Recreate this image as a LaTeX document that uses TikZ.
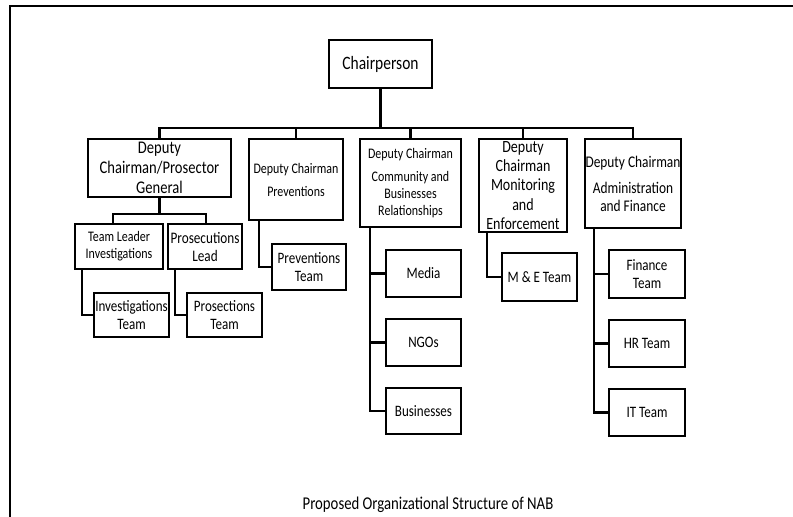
\documentclass[tikz,border=0pt]{standalone}
\usepackage{fontspec}
\setmainfont{Carlito}[FakeStretch=0.82]
\begin{document}
\begin{tikzpicture}[x=1pt,y=-1pt,
  bx/.style 2 args={draw, line width=2.5pt, minimum width=#1pt, minimum height=#2pt, inner sep=0pt, align=center},
  conn/.style={line width=2.5pt, line cap=rect},
  teamfont/.style={font=\fontsize{15.9}{18}\selectfont}]
\useasboundingbox (0,0) rectangle (793,517);
% frame
\draw[line width=2pt] (10,517) -- (10,6) -- (793,6);
% top
\node[bx={103}{48}, font=\fontsize{18.9}{20}\selectfont] (chair) at (380.5,64) {Chairperson};
% deputies
\node[bx={143}{58}, font=\fontsize{17.8}{20}\selectfont] (d1) at (159.5,168) {Deputy\\Chairman/Prosector\\General};
\node[bx={94}{81}, font=\fontsize{14.6}{23}\selectfont] (d2) at (296,179.5) {Deputy Chairman\\Preventions};
\node[bx={101}{88}, font=\fontsize{14.6}{17}\selectfont] (d3) at (410.5,183) {Deputy Chairman\\[6pt]Community and\\Businesses\\Relationships};
\node[bx={88}{93}, font=\fontsize{17.1}{19.3}\selectfont] (d4) at (523,185.5) {Deputy\\Chairman\\Monitoring\\and\\Enforcement};
\node[bx={96}{89}, font=\fontsize{16.3}{18}\selectfont] (d5) at (633,183.5) {Deputy Chairman\\[8pt]Administration\\and Finance};
% second level under d1
\node[bx={88}{45}, font=\fontsize{14.6}{17}\selectfont] (tli) at (119,246.5) {Team Leader\\Investigations};
\node[bx={74}{45}, font=\fontsize{16.1}{18}\selectfont] (pl) at (205,246.5) {Prosecutions\\Lead};
\node[bx={75}{44}, teamfont] (it) at (131.5,315) {Investigations\\Team};
\node[bx={75}{44}, teamfont] (pt) at (224.5,315) {Prosections\\Team};
% preventions
\node[bx={74}{46}, teamfont] (pvt) at (309,267) {Preventions\\Team};
% community
\node[bx={75}{47}, teamfont] (media) at (423.5,273.5) {Media};
\node[bx={75}{47}, teamfont] (ngos) at (423.5,342.5) {NGOs};
\node[bx={75}{46}, teamfont] (busi) at (423.5,411) {Businesses};
% monitoring
\node[bx={75}{48}, teamfont] (me) at (539.5,277) {M \& E Team};
% admin
\node[bx={76}{48}, teamfont] (fin) at (647,274) {Finance\\Team};
\node[bx={76}{47}, teamfont] (hr) at (647,343.5) {HR Team};
\node[bx={76}{47}, teamfont] (itt) at (647,412.5) {IT Team};
% caption
\node[inner sep=0pt, font=\fontsize{18}{20}\selectfont] (cap) at (428,505) {Proposed Organizational Structure of NAB};
% connectors
\coordinate (busc) at (380.5,128);
\coordinate (sub1) at (159.5,214);
\draw[conn] (chair.south) -- (busc);
\draw[conn] (d1.north) -- (d1.north|-busc) -- (d5.north|-busc) -- (d5.north);
\draw[conn] (d2.north) -- (d2.north|-busc);
\draw[conn] (d3.north) -- (d3.north|-busc);
\draw[conn] (d4.north) -- (d4.north|-busc);
\draw[conn] (d1.south) -- (sub1);
\draw[conn] ([xshift=-6pt]tli.north) -- ([xshift=-6pt]tli.north|-sub1) -- ([xshift=1pt]pl.north|-sub1) -- ([xshift=1pt]pl.north);
\draw[conn] ([xshift=8pt]tli.south west) |- (it.west);
\draw[conn] ([xshift=8pt]pl.south west) |- (pt.west);
\draw[conn] ([xshift=11pt]d2.south west) |- (pvt.west);
\draw[conn] ([xshift=11pt]d3.south west) |- (media.west);
\draw[conn] ([xshift=11pt]d3.south west) |- (ngos.west);
\draw[conn] ([xshift=11pt]d3.south west) |- (busi.west);
\draw[conn] ([xshift=9pt]d4.south west) |- (me.west);
\draw[conn] ([xshift=10pt]d5.south west) |- (fin.west);
\draw[conn] ([xshift=10pt]d5.south west) |- (hr.west);
\draw[conn] ([xshift=10pt]d5.south west) |- (itt.west);
\end{tikzpicture}
\end{document}
